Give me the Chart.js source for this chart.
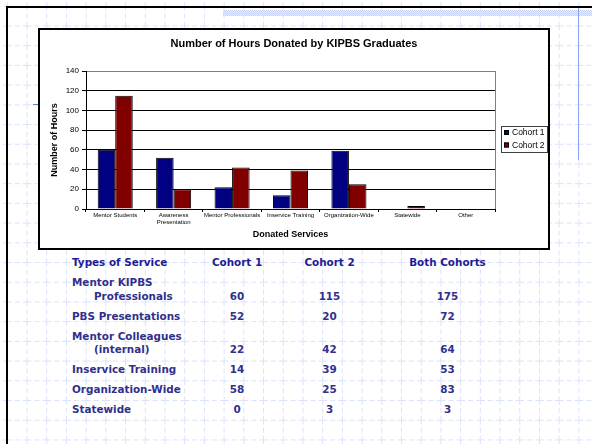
<!DOCTYPE html>
<html><head><meta charset="utf-8">
<script src="https://cdn.jsdelivr.net/npm/chart.js@4"></script>
<style>
html,body{margin:0;padding:0;background:#fff;}
body{width:592px;height:444px;position:relative;overflow:hidden;}
#bg{position:absolute;left:0;top:0;}
.frameTop{position:absolute;left:6px;top:6px;width:586px;height:2px;background:#000;}
.frameLeft{position:absolute;left:6px;top:6px;width:2px;height:438px;background:#000;}
.hatch{position:absolute;left:223px;top:10px;width:369px;height:6px;background:repeating-conic-gradient(#c3cff5 0 25%, #edf1fd 0 50%) 0 0/2px 2px;}
.vline{position:absolute;left:578px;top:8px;width:1px;height:152px;background:#8aa2f0;}
.hline{position:absolute;left:33px;top:104px;width:7px;height:1px;background:#5a78e6;}
#box{position:absolute;left:38px;top:28px;width:508px;height:218px;border:2px solid #000;background:#fff;}
#box canvas{display:block;}
#tbl{position:absolute;left:72px;top:256px;border-collapse:collapse;font-family:"DejaVu Sans",Verdana,sans-serif;font-weight:bold;font-size:10.4px;line-height:13.5px;color:#30308c;}
#tbl td{padding:0 0 6.5px 0;vertical-align:bottom;white-space:nowrap;}
#tbl td.n{text-align:center;}
#tbl tr.h td{color:#1c1c96;}
#tbl .ind{display:block;padding-left:22px;}
</style></head>
<body>
<svg id="bg" width="592" height="444">
<defs><pattern id="g" x="6.8" y="5.8" width="19.71" height="19.71" patternUnits="userSpaceOnUse">
<line x1="0" y1="0.5" x2="19.71" y2="0.5" stroke="#dbe2fb" stroke-width="1" stroke-dasharray="5 3"/>
<line x1="0.5" y1="0" x2="0.5" y2="19.71" stroke="#dbe2fb" stroke-width="1" stroke-dasharray="5 3"/>
</pattern></defs>
<rect width="592" height="444" fill="url(#g)"/>
</svg>
<div class="hatch"></div>
<div class="frameTop"></div>
<div class="frameLeft"></div>
<div class="vline"></div>
<div class="hline"></div>
<div id="box"><canvas id="c" width="508" height="218"></canvas></div>
<table id="tbl"><colgroup><col style="width:128px"><col style="width:74px"><col style="width:111px"><col style="width:125px"></colgroup><tbody id="tb"></tbody></table>
<script>
// ---- Chart data ----
const chartTitle = 'Number of Hours Donated by KIPBS Graduates';
const categories = [['Mentor Students'], ['Awareness', 'Presentation'], ['Mentor Professionals'], ['Inservice Training'], ['Organization-Wide'], ['Statewide'], ['Other']];
const seriesNames = ['Cohort 1', 'Cohort 2'];
const cohort1 = [60, 52, 22, 14, 59, 0, null];
const cohort2 = [115, 20, 42, 39, 25, 3, null];
const yTickValues = [0, 20, 40, 60, 80, 100, 120, 140];
const xTitle = 'Donated Services';
const yTitle = 'Number of Hours';

// ---- Table data ----
const tableHeaders = ['Types of Service', 'Cohort 1', 'Cohort 2', 'Both Cohorts'];
const tableServices = [['Mentor KIPBS', 'Professionals'], ['PBS Presentations'], ['Mentor Colleagues', '(internal)'], ['Inservice Training'], ['Organization-Wide'], ['Statewide']];
const tableCohort1 = [60, 52, 22, 14, 58, 0];
const tableCohort2 = [115, 20, 42, 39, 25, 3];
const tableBoth = [175, 72, 64, 53, 83, 3];

// build table
const tb = document.getElementById('tb');
{
  const tr = document.createElement('tr'); tr.className = 'h';
  tableHeaders.forEach((h, i) => { const td = document.createElement('td'); td.textContent = h; if (i) td.className = 'n'; tr.appendChild(td); });
  tb.appendChild(tr);
}
tableServices.forEach((lines, r) => {
  const tr = document.createElement('tr');
  const td0 = document.createElement('td');
  lines.forEach((l, k) => { const s = document.createElement('span'); s.textContent = l; s.style.display = 'block'; if (k > 0) s.className = 'ind'; td0.appendChild(s); });
  tr.appendChild(td0);
  [tableCohort1[r], tableCohort2[r], tableBoth[r]].forEach(v => { const td = document.createElement('td'); td.className = 'n'; td.textContent = v; tr.appendChild(td); });
  tb.appendChild(tr);
});

const FONT = '"Liberation Sans", Arial, Helvetica, sans-serif';
Chart.defaults.font.family = FONT;
Chart.defaults.color = '#000';

const decor = {
  id: 'decor',
  beforeDatasetsDraw(chart) {
    const { ctx, chartArea: a } = chart;
    ctx.save();
    ctx.strokeStyle = '#808080'; ctx.lineWidth = 1;
    ctx.beginPath();
    ctx.moveTo(Math.round(a.right) + 0.5, a.top);
    ctx.lineTo(Math.round(a.right) + 0.5, a.bottom);
    ctx.stroke();
    ctx.restore();
  },
  afterDraw(chart) {
    const { ctx } = chart;
    ctx.save();
    ctx.fillStyle = '#000';
    ctx.font = 'bold 11px ' + FONT;
    ctx.textAlign = 'center'; ctx.textBaseline = 'middle';
    ctx.fillText(chartTitle, chart.width / 2, 14);
    // legend
    const lx = 461, ly = 96, lw = 46, lh = 26;
    ctx.fillStyle = '#fff';
    ctx.fillRect(lx, ly, lw, lh);
    ctx.strokeStyle = '#404040'; ctx.lineWidth = 1;
    ctx.strokeRect(lx + 0.5, ly + 0.5, lw, lh);
    ctx.font = '8.5px ' + FONT;
    ctx.textAlign = 'left';
    chart.data.datasets.forEach((ds, i) => {
      const cy = ly + 6.5 + i * 12.5;
      ctx.fillStyle = ds.backgroundColor;
      ctx.fillRect(lx + 3, cy - 2.5, 5, 5);
      ctx.strokeStyle = '#000';
      ctx.strokeRect(lx + 3.5, cy - 2, 4, 4);
      ctx.fillStyle = '#000';
      ctx.fillText(ds.label, lx + 11, cy + 0.5);
    });
    ctx.restore();
  }
};

new Chart(document.getElementById('c'), {
  type: 'bar',
  data: {
    labels: categories,
    datasets: [
      { label: seriesNames[0], data: cohort1, backgroundColor: '#000080', borderColor: '#000', borderWidth: 1 },
      { label: seriesNames[1], data: cohort2, backgroundColor: '#800000', borderColor: '#000', borderWidth: 1 }
    ]
  },
  options: {
    responsive: false, animation: false, devicePixelRatio: 1,
    layout: { padding: { left: 0, top: 41, right: 53, bottom: 0 } },
    datasets: { bar: { categoryPercentage: 0.6, barPercentage: 1 } },
    plugins: { legend: { display: false }, title: { display: false }, tooltip: { enabled: false } },
    scales: {
      x: {
        grid: { display: true, drawOnChartArea: false, offset: true, tickLength: 3, color: '#000' },
        border: { color: '#000', width: 1 },
        ticks: { font: { size: 6, lineHeight: 1.1 }, color: '#000', padding: 0, maxRotation: 0, minRotation: 0, autoSkip: false },
        title: { display: true, text: xTitle, font: { size: 9, weight: 'bold' }, color: '#000', padding: { top: 0, bottom: 7.6 } },
        afterFit(s) { s.height = 39; }
      },
      y: {
        min: 0, max: 140,
        afterBuildTicks(s) { s.ticks = yTickValues.map(v => ({ value: v })); },
        ticks: { font: { size: 8 }, color: '#000', padding: 3 },
        grid: { color: c => (c.tick && c.tick.value === 140) ? '#808080' : '#000', tickLength: 4, tickColor: '#000', lineWidth: 1 },
        border: { color: '#000', width: 1 },
        title: { display: true, text: yTitle, font: { size: 9, weight: 'bold' }, color: '#000', padding: { top: 9.6, bottom: 0 } },
        afterFit(s) { s.width = 46; }
      }
    }
  },
  plugins: [decor]
});
</script>
</body></html>
